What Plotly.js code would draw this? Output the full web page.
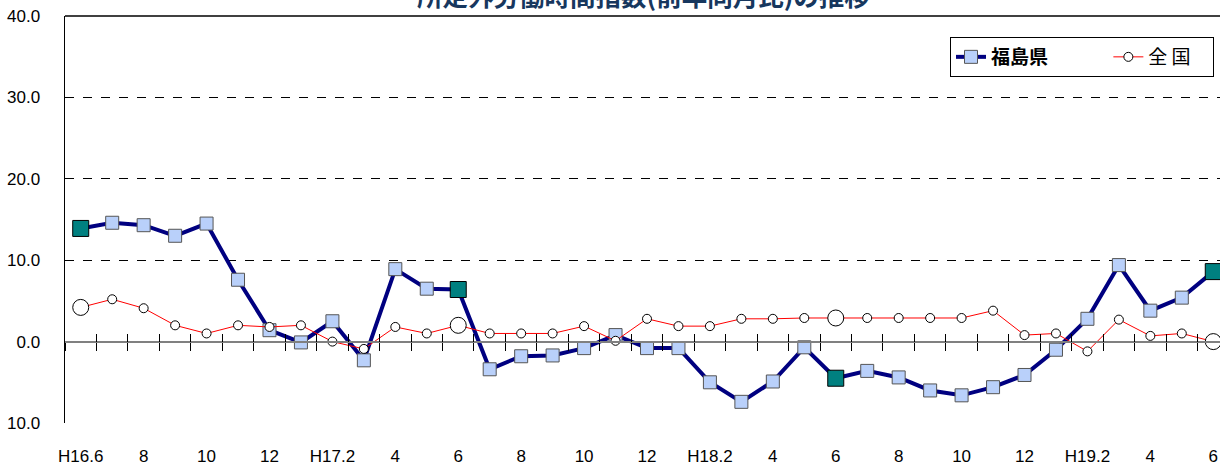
<!DOCTYPE html>
<html>
<head>
<meta charset="utf-8">
<script src="https://cdn.plot.ly/plotly-3.0.1.min.js"></script>
<style>
html,body{margin:0;padding:0;overflow:hidden;background:#fff;}
#chart{width:1232px;height:466px;}
</style>
</head>
<body>
<div id="chart"></div>
<script>
// ---- data ----
const months = ['H16.6','H16.7','H16.8','H16.9','H16.10','H16.11','H16.12',
  'H17.1','H17.2','H17.3','H17.4','H17.5','H17.6','H17.7','H17.8','H17.9','H17.10','H17.11','H17.12',
  'H18.1','H18.2','H18.3','H18.4','H18.5','H18.6','H18.7','H18.8','H18.9','H18.10','H18.11','H18.12',
  'H19.1','H19.2','H19.3','H19.4','H19.5','H19.6'];
const fukushima = [13.9,14.6,14.3,13.0,14.5,7.6,1.4,
  -0.1,2.5,-2.3,8.9,6.5,6.4,-3.4,-1.8,-1.7,-0.8,0.8,-0.8,
  -0.8,-5.0,-7.4,-4.9,-0.7,-4.5,-3.6,-4.4,-6.0,-6.6,-5.6,-4.1,
  -1.0,2.8,9.4,3.8,5.4,8.6];
const national = [4.2,5.2,4.1,2.0,1.0,2.0,1.8,
  2.0,0.0,-0.9,1.8,1.0,2.0,1.0,1.0,1.0,1.9,0.1,2.8,
  1.9,1.9,2.8,2.8,2.9,2.9,2.9,2.9,2.9,2.9,3.8,0.8,
  1.0,-1.2,2.7,0.7,1.0,0.0];
const xTickVals = ['H16.6','H16.8','H16.10','H16.12','H17.2','H17.4','H17.6','H17.8','H17.10','H17.12',
  'H18.2','H18.4','H18.6','H18.8','H18.10','H18.12','H19.2','H19.4','H19.6'];
const xTickText = ['H16.6','8','10','12','H17.2','4','6','8','10','12','H18.2','4','6','8','10','12','H19.2','4','6'];
const yTickVals = [-10,0,10,20,30,40];
const yTickText = ['10.0','0.0','10.0','20.0','30.0','40.0'];
const seriesNames = ['福島県','全 国'];
const titleText = '所定外労働時間指数(前年同月比)の推移';

// ---- June points (highlighted markers) ----
const juneIdx = months.map((m, i) => /\.6$/.test(m) ? i : -1).filter(i => i >= 0);
const juneMonths = juneIdx.map(i => months[i]);
const juneFukushima = juneIdx.map(i => fukushima[i]);
const juneNational = juneIdx.map(i => national[i]);

const font = 'Liberation Sans, Arial, Noto Sans CJK JP, sans-serif';
const jpFont = 'Noto Sans CJK JP, sans-serif';
const pad = n => '\u00a0'.repeat(n);

const traces = [
  {x: months, y: fukushima, name: '<b>' + seriesNames[0] + '</b>' + pad(13), type: 'scatter', mode: 'lines+markers',
   line: {color: '#000080', width: 4},
   marker: {symbol: 'square', size: 13, color: '#b9d0fa', opacity: 1, line: {color: '#555555', width: 1}},
   hoverinfo: 'x+y'},
  {x: juneMonths, y: juneFukushima, type: 'scatter', mode: 'markers', showlegend: false,
   marker: {symbol: 'square', size: 16, color: '#008080', opacity: 1, line: {color: '#000000', width: 1}},
   hoverinfo: 'skip'},
  {x: months, y: national, name: seriesNames[1] + pad(4), type: 'scatter', mode: 'lines+markers',
   line: {color: '#ff0000', width: 1},
   marker: {symbol: 'circle', size: 9, color: '#ffffff', opacity: 1, line: {color: '#000000', width: 1}},
   hoverinfo: 'x+y'},
  {x: juneMonths, y: juneNational, type: 'scatter', mode: 'markers', showlegend: false,
   marker: {symbol: 'circle', size: 16, color: '#ffffff', opacity: 1, line: {color: '#000000', width: 1}},
   hoverinfo: 'skip'},
  // helper traces for the axes drawn at y = 0
  {x: months, y: national, xaxis: 'x2', yaxis: 'y', mode: 'none', showlegend: false, hoverinfo: 'skip', type: 'scatter'},
  {x: months, y: national, xaxis: 'x3', yaxis: 'y', mode: 'none', showlegend: false, hoverinfo: 'skip', type: 'scatter'}
];

const yMin = -10, yMax = 40;
const zeroPos = (0 - yMin) / (yMax - yMin);
const xRange = [-0.5, months.length - 0.5];

const layout = {
  width: 1232, height: 466, autosize: false,
  margin: {l: 65, r: 3, t: 16, b: 43, autoexpand: false},
  paper_bgcolor: '#ffffff', plot_bgcolor: '#ffffff',
  font: {family: font, size: 17, color: '#000'},
  showlegend: true,
  legend: {
    orientation: 'h', x: (950 - 65) / 1164, y: (423 - 37) / 407, xanchor: 'left', yanchor: 'top',
    bordercolor: '#000', borderwidth: 1, bgcolor: '#fff',
    font: {family: jpFont, size: 19, color: '#000'},
    itemwidth: 30, tracegroupgap: 0
  },
  xaxis: {
    type: 'category', range: xRange, categoryorder: 'array', categoryarray: months,
    tickmode: 'array', tickvals: xTickVals, ticktext: xTickText,
    ticks: 'outside', ticklen: 18, tickcolor: 'rgba(0,0,0,0)',
    showgrid: false, showline: false, zeroline: false,
    tickfont: {family: font, size: 17, color: '#000'}
  },
  xaxis2: {
    type: 'category', range: xRange, overlaying: 'x', anchor: 'free', position: zeroPos,
    categoryorder: 'array', categoryarray: months,
    tickson: 'boundaries', ticks: 'outside', ticklen: 8, tickwidth: 1, tickcolor: '#000',
    showticklabels: false, showgrid: false, zeroline: false,
    showline: true, linecolor: '#808080', linewidth: 2
  },
  xaxis3: {
    type: 'category', range: xRange, overlaying: 'x', anchor: 'free', position: zeroPos,
    categoryorder: 'array', categoryarray: months,
    tickson: 'boundaries', ticks: 'inside', ticklen: 8, tickwidth: 1, tickcolor: '#000',
    showticklabels: false, showgrid: false, zeroline: false, showline: false
  },
  yaxis: {
    range: [yMin, yMax], tickmode: 'array', tickvals: yTickVals, ticktext: yTickText,
    showgrid: true, gridcolor: '#000', gridwidth: 1, griddash: 'dash',
    zeroline: false, showline: true, linecolor: '#000', linewidth: 1.5,
    ticks: 'outside', ticklen: 20, tickcolor: 'rgba(0,0,0,0)',
    tickfont: {family: font, size: 17, color: '#000'}
  },
  shapes: [
    {type: 'line', xref: 'paper', yref: 'paper', x0: 0, x1: 1, y0: 1, y1: 1, line: {color: '#000', width: 1.5}}
  ],
  annotations: [
    {text: '<b>' + titleText + '</b>', xref: 'paper', yref: 'paper', x: (643 - 65) / 1164, y: 1.052,
     xanchor: 'center', yanchor: 'middle', showarrow: false,
     font: {family: jpFont, size: 25.5, color: '#17375e'}}
  ]
};

Plotly.newPlot('chart', traces, layout, {displayModeBar: false, staticPlot: true});
</script>
</body>
</html>
